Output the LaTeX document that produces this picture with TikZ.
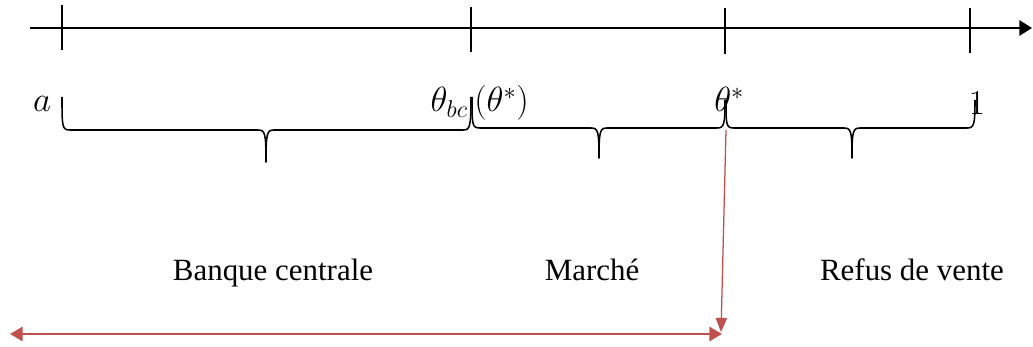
\documentclass[tikz,border=0pt]{standalone}
\usepackage{fontspec}
\setmainfont{Liberation Serif}
\usepackage{tikz}
\usetikzlibrary{arrows.meta}
\definecolor{arrowRed}{RGB}{192,80,77}

\begin{document}
\begin{tikzpicture}[x=0.025cm, y=-0.025cm, line join=round,
  tickline/.style={line width=1.1pt},
  wordbrace/.style={line width=1.1pt},
  mathlbl/.style={font=\fontsize{24}{28}\selectfont, inner sep=0pt},
  zonelbl/.style={font=\fontsize{22}{26}\selectfont, inner sep=0pt, anchor=base}]
\useasboundingbox (0,0) rectangle (1033,347);
% axe
\coordinate (axL) at (30,28);
\coordinate (axR) at (1032,28);
\draw[line width=1.1pt, -{Triangle[length=9pt,width=11pt]}] (axL) -- (axR);
\draw[tickline] (62,5) -- (62,50);
\draw[line width=2pt] (471,7) -- (471,52);
\draw[tickline] (725,8) -- (725,54);
\draw[tickline] (970,8) -- (970,53);
% bornes
\node[mathlbl, anchor=base] (a) at (42,112) {$a$};
\node[mathlbl, anchor=base east] (thbc) at (468,112) {$\theta_{bc}$};
\node[mathlbl, anchor=base west] (thpar) at (474,112) {$(\theta^*)$};
\node[mathlbl, anchor=base west] (thstar) at (714,112) {$\theta^*$};
\node[mathlbl, anchor=base] (one) at (977,115) {$1$};
% accolades
\draw[wordbrace] (62,97) .. controls (62,127) and (62,130) .. (70,130) -- (258,130)
  .. controls (265,130) and (266,133) .. (266,162) .. controls (266,133) and (267,130) .. (274,130)
  -- (463,130) .. controls (470,130) and (471,127) .. (471,97);
\draw[wordbrace] (472,97) .. controls (472,125) and (472,128) .. (480,128) -- (591,128)
  .. controls (598,128) and (599,131) .. (599,158) .. controls (599,131) and (600,128) .. (607,128)
  -- (717,128) .. controls (724,128) and (725,125) .. (725,100);
\draw[wordbrace] (726,100) .. controls (726,125) and (726,128) .. (734,128) -- (844,128)
  .. controls (851,128) and (852,131) .. (852,158) .. controls (852,131) and (853,128) .. (860,128)
  -- (967,128) .. controls (974,128) and (975,125) .. (975,100);
% zones
\node[zonelbl] (bc) at (273,280) {Banque centrale};
\node[zonelbl] (mk) at (592,280) {Marché};
\node[zonelbl] (rv) at (912,280) {Refus de vente};
% fleches
\coordinate (tip) at (726,130);
\coordinate (hL) at (10,334);
\coordinate (hR) at (722,334);
\draw[arrowRed, line width=0.9pt, -{Triangle[length=10pt,width=8pt]}] (tip) -- (721,332);
\draw[arrowRed, line width=2pt, {Triangle[length=9pt,width=10pt]}-{Triangle[length=9pt,width=10pt]}] (hL) -- (hR);
\end{tikzpicture}
\end{document}
